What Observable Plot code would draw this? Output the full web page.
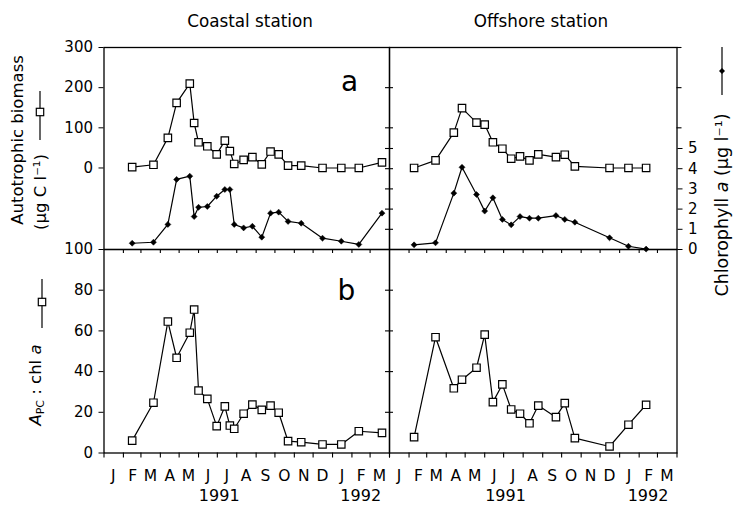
<!DOCTYPE html>
<html>
<head>
<meta charset="utf-8">
<script src="https://cdn.jsdelivr.net/npm/d3@7"></script>
<script src="https://cdn.jsdelivr.net/npm/@observablehq/plot@0.6"></script>
<style>
  body { margin: 0; background: #fff; }
  #chart { position: relative; width: 736px; height: 506px; background: #fff; font-family: "DejaVu Sans", sans-serif; }
  #chart svg { position: absolute; left: 0; top: 0; }
</style>
</head>
<body>
<div id="chart"></div>
<script>
// ---------- data ----------
const coastalDates = ["1991-02-15","1991-03-21","1991-04-13","1991-04-27","1991-05-18","1991-05-25","1991-06-01","1991-06-15","1991-06-30","1991-07-13","1991-07-21","1991-07-28","1991-08-12","1991-08-26","1991-09-10","1991-09-24","1991-10-07","1991-10-22","1991-11-12","1991-12-16","1992-01-15","1992-02-12","1992-03-20"];
const coastalBiomass = [2, 8, 75, 162, 210, 112, 64, 54, 34, 68, 42, 10, 20, 27, 9, 41, 34, 6, 6, 0, 0, 0, 14];
const coastalChl = [0.31, 0.36, 1.24, 3.47, 3.63, 1.63, 2.09, 2.13, 2.64, 2.97, 2.97, 1.24, 1.07, 1.15, 0.61, 1.80, 1.85, 1.39, 1.30, 0.56, 0.41, 0.25, 1.80];
const coastalRatio = [6.1, 24.7, 64.6, 46.8, 59.1, 70.5, 30.7, 26.6, 13.2, 22.9, 13.5, 11.9, 19.3, 23.8, 21.2, 23.3, 19.8, 5.8, 5.3, 4.2, 4.2, 10.7, 9.9];

const offshoreDates = ["1991-02-09","1991-03-15","1991-04-13","1991-04-26","1991-05-19","1991-06-01","1991-06-14","1991-06-29","1991-07-13","1991-07-27","1991-08-11","1991-08-25","1991-09-22","1991-10-06","1991-10-22","1991-12-16","1992-01-15","1992-02-12"];
const offshoreBiomass = [0, 19, 88, 149, 113, 108, 64, 48, 23, 29, 19, 34, 27, 33, 4, 0, 0, 0];
const offshoreChl = [0.23, 0.33, 2.79, 4.07, 2.72, 1.90, 2.56, 1.49, 1.22, 1.63, 1.55, 1.55, 1.68, 1.49, 1.35, 0.58, 0.16, 0.02];
const offshoreRatio = [7.8, 56.9, 31.8, 36, 41.9, 58.2, 25, 33.7, 21.4, 19.3, 14.6, 23.3, 17.6, 24.5, 7.3, 3.2, 13.9, 23.7];

const monthLabels = ["J","F","M","A","M","J","J","A","S","O","N","D","J","F","M"];
const yearLabels = ["1991", "1992"];
const yearTickDates = ["1991-07-04", "1992-02-15"];
const biomassTicks = [300, 200, 100, 0];
const chlTicks = [0, 1, 2, 3, 4, 5];
const ratioTicks = [0, 20, 40, 60, 80, 100];

(function () {
// ---------- build tables ----------
const coastal = coastalDates.map((d, i) => ({date: new Date(d), biomass: coastalBiomass[i], chl: coastalChl[i], ratio: coastalRatio[i]}));
const offshore = offshoreDates.map((d, i) => ({date: new Date(d), biomass: offshoreBiomass[i], chl: offshoreChl[i], ratio: offshoreRatio[i]}));

const xDomain = [new Date("1991-01-01"), new Date("1992-04-01")];
const monthStarts = d3.utcMonth.range(xDomain[0], d3.utcDay.offset(xDomain[1], 1));
const innerMonths = monthStarts.slice(1, -1);
const monthMids = monthStarts.slice(0, -1).map(m => d3.utcDay.offset(m, 15));
const yearTicks = yearTickDates.map(d => new Date(d));

// ---------- layout ----------
const W = 736, H = 506;
const yTop = 47, yMid = 249, yBot = 452.5, x0 = 103.5, x1 = 389, x2 = 676.5;
const pw1 = x1 - x0, pw2 = x2 - x1, ph2 = yBot - yMid;

const chart = document.getElementById("chart");
const baseStyle = {background: "transparent", fontFamily: "'DejaVu Sans', sans-serif", fontSize: "15px", overflow: "visible", position: "absolute", left: "0px", top: "0px", color: "black"};

function panel(box, yDomain, marks) {
  const [l, r, t, b] = box;
  const svg = Plot.plot({
    width: W, height: H,
    marginLeft: l, marginRight: W - r, marginTop: t, marginBottom: H - b,
    x: {type: "utc", domain: xDomain, axis: null},
    y: {domain: yDomain, axis: null},
    style: baseStyle,
    marks
  });
  chart.appendChild(svg);
}

const ln = {stroke: "black", strokeWidth: 1.2};
const sq = {symbol: "square", r: 4.2, fill: "white", stroke: "black", strokeWidth: 1.2};
const dia = {symbol: "diamond2", r: 2.7, fill: "black", stroke: "black", strokeWidth: 0.5};
const tk = {stroke: "black", strokeWidth: 1.1};

const biomassDomain = [-203, 300];
const chlDomain = [0, 10];
const ratioDomain = [0, 100];

function monthAxes() {
  return [
    Plot.ruleX(innerMonths, {insetBottom: ph2 - 4, ...tk}),
    Plot.ruleX(monthStarts, {insetTop: ph2, insetBottom: -5, ...tk}),
    Plot.axisX({ticks: monthMids, tickSize: 0, tickPadding: 17, label: null, fontSize: 15.5,
      tickFormat: d => monthLabels[d3.utcMonth.count(xDomain[0], d)]}),
    Plot.axisX({ticks: yearTicks, tickSize: 0, tickPadding: 37, label: null, fontSize: 16,
      tickFormat: d => yearLabels[yearTicks.findIndex(t => +t === +d)]})
  ];
}

// Coastal a: autotrophic biomass
panel([x0, x1, yTop, yMid], biomassDomain, [
  Plot.frame({stroke: "black", strokeWidth: 1.3}),
  Plot.axisY({anchor: "left", ticks: biomassTicks, tickSize: 5, tickPadding: 6, label: null}),
  Plot.ruleY([200, 100], {insetLeft: pw1 - 4, ...tk}),
  Plot.line(coastal, {x: "date", y: "biomass", ...ln}),
  Plot.dot(coastal, {x: "date", y: "biomass", ...sq}),
  Plot.text(["a"], {frameAnchor: "top-right", textAnchor: "middle", lineAnchor: "bottom", dx: -40, dy: 43, fontSize: 28})
]);
// Coastal a: chlorophyll
panel([x0, x1, yTop, yMid], chlDomain, [
  Plot.ruleY([1, 2, 3, 4, 5], {insetLeft: pw1 - 4, ...tk}),
  Plot.line(coastal, {x: "date", y: "chl", ...ln}),
  Plot.dot(coastal, {x: "date", y: "chl", ...dia})
]);
// Offshore a: biomass
panel([x1, x2, yTop, yMid], biomassDomain, [
  Plot.frame({stroke: "black", strokeWidth: 1.3}),
  Plot.ruleY([200, 100], {insetRight: pw2 - 4, ...tk}),
  Plot.ruleY([300, 200, 100], {insetLeft: pw2, insetRight: -5, ...tk}),
  Plot.line(offshore, {x: "date", y: "biomass", ...ln}),
  Plot.dot(offshore, {x: "date", y: "biomass", ...sq})
]);
// Offshore a: chlorophyll
panel([x1, x2, yTop, yMid], chlDomain, [
  Plot.ruleY([1, 2, 3, 4, 5], {insetRight: pw2 - 4, ...tk}),
  Plot.axisY({anchor: "right", ticks: chlTicks, tickSize: 5, tickPadding: 6, label: null}),
  Plot.line(offshore, {x: "date", y: "chl", ...ln}),
  Plot.dot(offshore, {x: "date", y: "chl", ...dia})
]);
// Coastal b: A_PC : chl a
panel([x0, x1, yMid, yBot], ratioDomain, [
  Plot.frame({stroke: "black", strokeWidth: 1.3}),
  Plot.axisY({anchor: "left", ticks: ratioTicks, tickSize: 5, tickPadding: 6, label: null}),
  Plot.ruleY([20, 40, 60, 80], {insetLeft: pw1 - 4, ...tk}),
  ...monthAxes(),
  Plot.line(coastal, {x: "date", y: "ratio", ...ln}),
  Plot.dot(coastal, {x: "date", y: "ratio", ...sq}),
  Plot.text(["b"], {frameAnchor: "top-right", textAnchor: "middle", lineAnchor: "bottom", dx: -43, dy: 50, fontSize: 28})
]);
// Offshore b
panel([x1, x2, yMid, yBot], ratioDomain, [
  Plot.frame({stroke: "black", strokeWidth: 1.3}),
  Plot.ruleY([20, 40, 60, 80], {insetRight: pw2 - 4, ...tk}),
  ...monthAxes(),
  Plot.line(offshore, {x: "date", y: "ratio", ...ln}),
  Plot.dot(offshore, {x: "date", y: "ratio", ...sq})
]);

// ---------- titles, axis titles and legend glyphs ----------
const ann = d3.create("svg").attr("width", W).attr("height", H)
  .style("position", "absolute").style("left", "0px").style("top", "0px")
  .style("overflow", "visible")
  .attr("font-family", "'DejaVu Sans', sans-serif").attr("fill", "black");

ann.append("text").attr("x", 250).attr("y", 27).attr("text-anchor", "middle").attr("font-size", 16.8).text("Coastal station");
ann.append("text").attr("x", 541).attr("y", 27).attr("text-anchor", "middle").attr("font-size", 16.8).text("Offshore station");

ann.append("text").attr("transform", "translate(23,140) rotate(-90)").attr("text-anchor", "middle").attr("font-size", 16.5).text("Autotrophic biomass");
ann.append("text").attr("transform", "translate(45.5,192) rotate(-90)").attr("text-anchor", "middle").attr("font-size", 16.5).text("(µg C l⁻¹)");

const apc = ann.append("text").attr("transform", "translate(41,385) rotate(-90)").attr("text-anchor", "middle").attr("font-size", 16.5);
apc.append("tspan").attr("font-style", "italic").text("A");
apc.append("tspan").attr("font-size", 11).attr("dy", 3).text("PC");
apc.append("tspan").attr("dy", -3).text(" : chl ");
apc.append("tspan").attr("font-style", "italic").text("a");

const chlT = ann.append("text").attr("transform", "translate(728,205) rotate(-90)").attr("text-anchor", "middle").attr("font-size", 17.5);
chlT.append("tspan").text("Chlorophyll ");
chlT.append("tspan").attr("font-style", "italic").text("a");
chlT.append("tspan").text(" (µg l⁻¹)");

// legend glyphs
ann.append("line").attr("x1", 40).attr("x2", 40).attr("y1", 91).attr("y2", 140).attr("stroke", "black").attr("stroke-width", 1.2);
ann.append("rect").attr("x", 36.3).attr("y", 108.3).attr("width", 7.4).attr("height", 7.4).attr("fill", "white").attr("stroke", "black").attr("stroke-width", 1.2);

ann.append("line").attr("x1", 42).attr("x2", 42).attr("y1", 279).attr("y2", 328).attr("stroke", "black").attr("stroke-width", 1.2);
ann.append("rect").attr("x", 38.3).attr("y", 298.3).attr("width", 7.4).attr("height", 7.4).attr("fill", "white").attr("stroke", "black").attr("stroke-width", 1.2);

ann.append("line").attr("x1", 722).attr("x2", 722).attr("y1", 47).attr("y2", 95).attr("stroke", "black").attr("stroke-width", 1.2);
ann.append("path").attr("d", "M722,68L725,71L722,74L719,71Z").attr("fill", "black");

chart.appendChild(ann.node());
})();
</script>
</body>
</html>
